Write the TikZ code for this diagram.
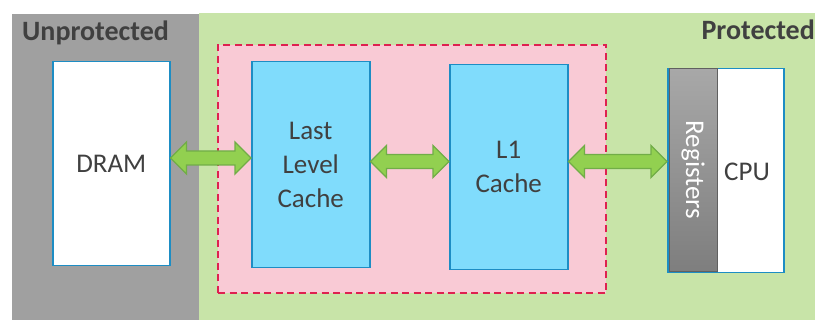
\documentclass[tikz,border=0pt]{standalone}
\usepackage{fontspec}
\setmainfont{Carlito}
\usetikzlibrary{calc}
\definecolor{grayzone}{HTML}{A0A0A0}
\definecolor{greenzone}{HTML}{C8E4A8}
\definecolor{pinkzone}{HTML}{F9CAD5}
\definecolor{dashred}{HTML}{DE2150}
\definecolor{boxblue}{HTML}{1D8DC4}
\definecolor{cachefill}{HTML}{80DCFC}
\definecolor{arrfill}{HTML}{92D050}
\definecolor{arrline}{HTML}{71AD47}
\definecolor{txt}{HTML}{404040}
\definecolor{regtop}{HTML}{A8A8A8}
\definecolor{regbot}{HTML}{7E7E7E}
\definecolor{regline}{HTML}{606060}
\newcommand\dblarr[3]{%
  \path[arrshape] let \p1=#1, \p2=#2, \p3=#3 in
    (\x1,\y3) -- (\x1+16pt,\y3+16pt) -- (\x1+16pt,\y3+7pt) -- (\x2-16pt,\y3+7pt)
    -- (\x2-16pt,\y3+16pt) -- (\x2,\y3) -- (\x2-16pt,\y3-16pt) -- (\x2-16pt,\y3-7pt)
    -- (\x1+16pt,\y3-7pt) -- (\x1+16pt,\y3-16pt) -- cycle;}
\begin{document}
\begin{tikzpicture}[x=1pt,y=-1pt,
  zone/.style={anchor=north west, inner sep=0pt, outer sep=0pt},
  membox/.style={anchor=north west, draw=boxblue, line width=1.5pt, inner sep=0pt,
    text=txt, align=center, font=\fontsize{27}{34}\selectfont},
  arrshape/.style={fill=arrfill, draw=arrline, line width=1.3pt, line join=miter},
  zonelabel/.style={text=txt, font=\bfseries\fontsize{28}{32}\selectfont, inner sep=0pt}]
\useasboundingbox (0,0) rectangle (815,320);
\fill[white] (0,0) rectangle (815,320);
% zones
\node[zone, fill=grayzone, minimum width=187pt, minimum height=306pt] (unprot) at (12,14) {};
\node[zone, fill=greenzone, minimum width=616pt, minimum height=307pt] (prot) at (199,13) {};
\node[zonelabel, anchor=base west] (unprotlbl) at (22,41) {Unprotected};
\node[zonelabel, anchor=base east] (protlbl) at (815,40) {Protected};
% pink dashed region
\node[zone, fill=pinkzone, draw=dashred, line width=2pt, dash pattern=on 7pt off 4.5pt,
  minimum width=388pt, minimum height=248pt] (enclave) at (218,45) {};
% memory boxes
\node[membox, fill=white, minimum width=117pt, minimum height=204pt] (dram) at (52,61) {DRAM};
\node[membox, fill=cachefill, minimum width=118pt, minimum height=206pt] (llc) at (251,61) {Last\\Level\\Cache};
\node[membox, fill=cachefill, minimum width=118pt, minimum height=205pt] (l1) at (449,64) {L1\\Cache};
% CPU
\node[membox, fill=white, minimum width=116pt, minimum height=204pt] (cpu) at (667,68) {};
\node[zone, top color=regtop, bottom color=regbot, draw=regline, line width=0.8pt,
  minimum width=48pt, minimum height=203pt] (regs) at (669,68.5) {};
\node[text=white, rotate=-90, font=\fontsize{27}{32}\selectfont, inner sep=0pt] (regslbl) at (regs.center) {Registers};
\node[text=txt, font=\fontsize{27}{32}\selectfont, inner sep=0pt] (cpulbl) at (747,172) {CPU};
% arrows
\dblarr{(dram.east)}{(llc.west)}{(0,158)}
\dblarr{(llc.east)}{(l1.west)}{(0,161.5)}
\dblarr{(l1.east)}{(cpu.west)}{(0,161.5)}
\end{tikzpicture}
\end{document}
